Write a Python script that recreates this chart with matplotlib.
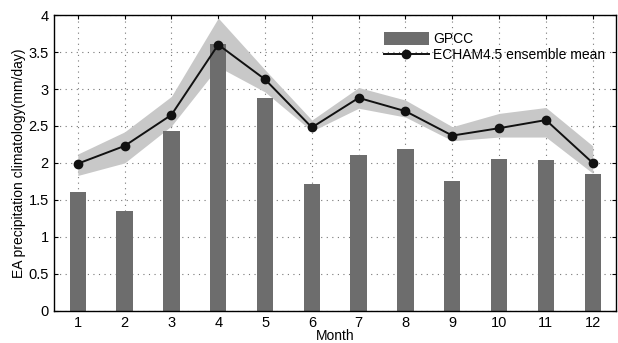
import matplotlib
matplotlib.use("Agg")
import matplotlib.pyplot as plt
import numpy as np

months = [1, 2, 3, 4, 5, 6, 7, 8, 9, 10, 11, 12]
gpcc = [1.60, 1.35, 2.43, 3.61, 2.88, 1.72, 2.11, 2.19, 1.76, 2.05, 2.04, 1.85]
echam_mean = [1.99, 2.23, 2.65, 3.60, 3.13, 2.48, 2.88, 2.70, 2.37, 2.47, 2.58, 2.00]
echam_upper = [2.12, 2.42, 2.90, 3.96, 3.26, 2.58, 3.02, 2.85, 2.49, 2.67, 2.75, 2.23]
echam_lower = [1.83, 2.00, 2.50, 3.30, 2.96, 2.43, 2.74, 2.62, 2.30, 2.35, 2.35, 1.86]
yticks = [0, 0.5, 1, 1.5, 2, 2.5, 3, 3.5, 4]
yticklabels = ["0", "0.5", "1", "1.5", "2", "2.5", "3", "3.5", "4"]

plt.rcParams['font.family'] = ['Liberation Sans', 'DejaVu Sans']
plt.rcParams['font.size'] = 10

fig = plt.figure(figsize=(6.18, 3.43), dpi=100)
ax = fig.add_axes([0.088, 0.094, 0.909, 0.862])

ax.fill_between(months, echam_lower, echam_upper, color='#c8c8c8', lw=0, zorder=1)
bars = ax.bar(months, gpcc, width=0.35, color='#6d6d6d', zorder=2, label='GPCC')
line, = ax.plot(months, echam_mean, '-o', color='#111111', lw=1.4, ms=6, zorder=3,
                label='ECHAM4.5 ensemble mean')

ax.set_xlim(0.5, 12.5)
ax.set_ylim(0, 4)
ax.set_xticks(months)
ax.set_yticks(yticks)
ax.set_yticklabels(yticklabels)
ax.grid(True, linestyle=(0, (1, 4)), color='#777777', lw=0.8, zorder=0)
ax.set_axisbelow(True)
ax.tick_params(direction='in', top=True, right=True, length=3, labelsize=10.5, pad=4)
for s in ax.spines.values():
    s.set_linewidth(1.0)
ax.set_xlabel('Month', fontsize=10, labelpad=-1)
ax.set_ylabel('EA precipitation climatology(mm/day)', fontsize=10, labelpad=2)

leg = ax.legend([bars, line], ['GPCC', 'ECHAM4.5 ensemble mean'],
                loc='upper right', frameon=False, fontsize=10, handlelength=3.2,
                handleheight=1.0, borderaxespad=0.2, labelspacing=0.15,
                handletextpad=0.3, bbox_to_anchor=(0.995, 0.97))

fig.savefig('out.png', dpi=100)
